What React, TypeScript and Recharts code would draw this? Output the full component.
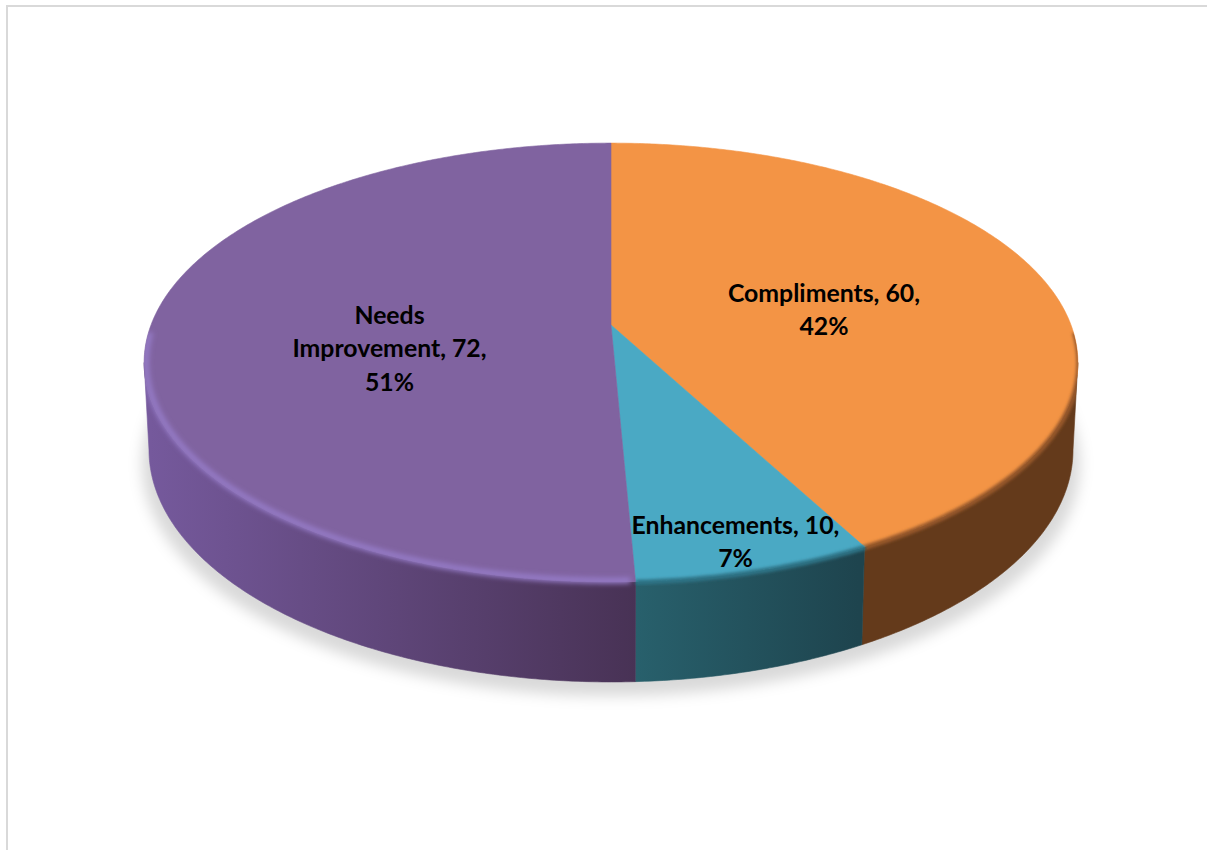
import React from "react";
import { PieChart, Pie, Cell } from "recharts";

const categories = ["Compliments", "Enhancements", "Needs Improvement"];
const counts = [60, 10, 72];
const faceColors = ["#f39445", "#4aa9c4", "#8063a0"];
const wallStops = [
  ["#643a1b", "#643a1b"],
  ["#28606c", "#1e444e"],
  ["#75599c", "#483255"],
];
const wallRanges = [
  [858, 1078],
  [636, 858],
  [150, 636],
];
const rimColors = ["#98592a", "#2f7386", "#947ac6"];
const rimFrom = [92, 99, 178];
const rimTo = [153, 178, 268];
const rimInset = [1.002, 1.002, 0.996];
const labelLines = [["Compliments, 60,"], ["Enhancements, 10,"], ["Needs", "Improvement, 72,"]];
const labelCentres = [
  [824, 292],
  [735.5, 524],
  [389.5, 314],
];

const tableRows = categories.map((name, i) => ({ name, value: counts[i], index: i }));

const W = 1207;
const H = 850;
const CX = 611;
const P = 0.171;
const TOP_PLANE = { cy: 325, a: 460, b: 213 };
const BOTTOM_PLANE = { cy: 410.3, a: 455.2, b: 225.2 };
const TANGENT = (Math.acos(-P) * 180) / Math.PI;
const rad = (d: number) => (d * Math.PI) / 180;

// theta: degrees clockwise from 12 o'clock; perspective projection of a flat disc
function project(plane: typeof TOP_PLANE, theta: number, k = 1) {
  const u = Math.sin(rad(theta)) * k;
  const v = Math.cos(rad(theta)) * k;
  const d = 1 + P * v;
  return [CX + (plane.a * u) / d, plane.cy - (plane.b * v) / d];
}
function arc(plane: typeof TOP_PLANE, from: number, to: number, k = 1) {
  const n = Math.max(2, Math.ceil(Math.abs(to - from) * 2));
  const pts: number[][] = [];
  for (let i = 0; i <= n; i++) pts.push(project(plane, from + ((to - from) * i) / n, k));
  return pts;
}
const toD = (pts: number[][]) => pts.map((p, i) => `${i ? "L" : "M"}${p[0].toFixed(2)} ${p[1].toFixed(2)}`).join("");
const thetaOf = (angle: number) => 90 - angle;

const silhouette =
  toD(arc(TOP_PLANE, TANGENT - 360, 360 - TANGENT - 360 + 0).slice(0)) +
  "Z" +
  toD(arc(TOP_PLANE, TANGENT, 360 - TANGENT)) +
  toD(arc(BOTTOM_PLANE, 360 - TANGENT, TANGENT)).replace("M", "L") +
  "Z";

function FaceShape(props: any) {
  const i = props.index ?? props.payload?.index ?? 0;
  const a = thetaOf(props.startAngle);
  const b = thetaOf(props.endAngle);
  const pts = arc(TOP_PLANE, a, b);
  const d = `M${CX} ${TOP_PLANE.cy}` + toD(pts).replace("M", "L") + "Z";
  const r0 = Math.max(a, rimFrom[i]);
  const r1 = Math.min(b, rimTo[i]);
  const fid = `rimBlur${i}`;
  const cid = `rimClip${i}`;
  return (
    <g>
      <defs>
        <filter id={fid} x="-10%" y="-10%" width="120%" height="120%">
          <feGaussianBlur stdDeviation={i === 2 ? 2.6 : 1.8} />
        </filter>
        <clipPath id={cid}>
          <path d={toD(arc(TOP_PLANE, 0, 360)) + "Z"} />
          <path d={toD(arc(TOP_PLANE, TANGENT, 360 - TANGENT)) + toD(arc(BOTTOM_PLANE, 360 - TANGENT, TANGENT)).replace("M", "L") + "Z"} />
        </clipPath>
      </defs>
      <path d={d} fill={faceColors[i]} stroke={faceColors[i]} strokeWidth={0.6} />
      <g clipPath={`url(#${cid})`}>
        <path d={toD(arc(TOP_PLANE, r0, r1, rimInset[i]))} fill="none" stroke={rimColors[i]} strokeWidth={i === 2 ? 6 : 5} filter={`url(#${fid})`} />
      </g>
    </g>
  );
}

function WallShape(props: any) {
  const i = props.index ?? props.payload?.index ?? 0;
  const a = Math.max(thetaOf(props.startAngle), TANGENT);
  const b = Math.min(thetaOf(props.endAngle), 360 - TANGENT);
  const top = arc(TOP_PLANE, a, b);
  const bottom = arc(BOTTOM_PLANE, b, a);
  const d = toD(top) + toD(bottom).replace("M", "L") + "Z";
  const gid = `wallGrad${i}`;
  const [x1, x2] = wallRanges[i];
  const [c1, c2] = wallStops[i];
  return (
    <g>
      <defs>
        <linearGradient id={gid} gradientUnits="userSpaceOnUse" x1={x1} x2={x2} y1={0} y2={0}>
          <stop offset="0" stopColor={c1} />
          <stop offset="1" stopColor={c2} />
        </linearGradient>
      </defs>
      <path d={d} fill={`url(#${gid})`} stroke={`url(#${gid})`} strokeWidth={0.6} />
    </g>
  );
}

function renderLabel(props: any) {
  const i = props.index ?? 0;
  const lines = [...labelLines[i], `${Math.round((props.percent ?? 0) * 100)}%`];
  const [x, y] = labelCentres[i];
  return (
    <text key={i} x={x} y={y} textAnchor="middle" fontFamily="Lato, sans-serif" fontWeight={700} fontSize={24.8} fill="#000000">
      {lines.map((line, j) => (
        <tspan key={j} x={x} y={y + j * 33.5} dominantBaseline="central">
          {line}
        </tspan>
      ))}
    </text>
  );
}

export default function App() {
  return (
    <div style={{ position: "absolute", left: 0, top: 0, width: W, height: H, overflow: "hidden", background: "#ffffff" }}>
      <div style={{ position: "absolute", left: 6, top: 5, width: W, height: H, border: "2px solid #d9d9d9", boxSizing: "border-box" }} />
      <svg width={W} height={H} style={{ position: "absolute", left: 0, top: 0 }}>
        <defs>
          <filter id="groundBlur" x="-10%" y="-10%" width="120%" height="120%">
            <feGaussianBlur stdDeviation="7" />
          </filter>
        </defs>
        <ellipse cx={611} cy={464} rx={469} ry={232} fill="#000000" fillOpacity={0.15} filter="url(#groundBlur)" />
      </svg>
      <div style={{ position: "absolute", left: 0, top: 0 }}>
        <PieChart width={W} height={H} margin={{ top: 0, right: 0, bottom: 0, left: 0 }}>
          <Pie
            data={tableRows}
            dataKey="value"
            nameKey="name"
            cx={CX}
            cy={TOP_PLANE.cy}
            outerRadius={200}
            startAngle={90}
            endAngle={-270}
            stroke="none"
            isAnimationActive={false}
            shape={WallShape}
            label={false}
          >
            {tableRows.map((r, i) => (
              <Cell key={r.name} fill={faceColors[i]} />
            ))}
          </Pie>
          <Pie
            data={tableRows}
            dataKey="value"
            nameKey="name"
            cx={CX}
            cy={TOP_PLANE.cy}
            outerRadius={200}
            startAngle={90}
            endAngle={-270}
            stroke="none"
            isAnimationActive={false}
            shape={FaceShape}
            label={renderLabel}
            labelLine={false}
          >
            {tableRows.map((r, i) => (
              <Cell key={r.name} fill={faceColors[i]} />
            ))}
          </Pie>
        </PieChart>
      </div>
    </div>
  );
}
